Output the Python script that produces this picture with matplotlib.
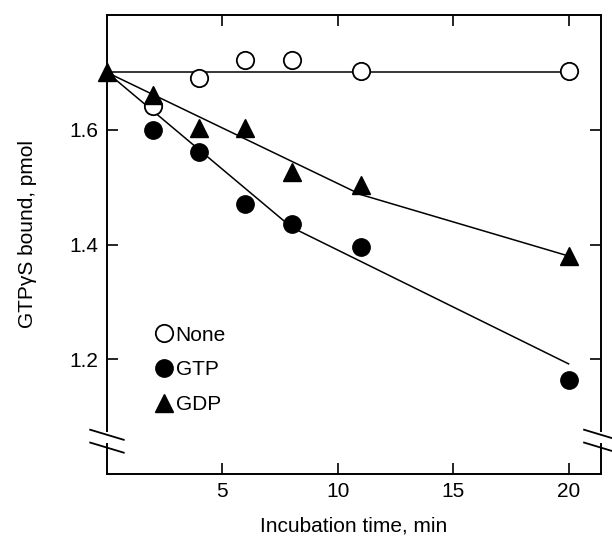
import numpy as np
import matplotlib
matplotlib.use("Agg")
import matplotlib.pyplot as plt
from matplotlib.lines import Line2D

plt.rcParams['font.family'] = ['Liberation Sans', 'DejaVu Sans']

# measured points
none_t = [2, 4, 6, 8, 11, 20]
none_y = [1.642, 1.691, 1.722, 1.722, 1.702, 1.702]
gtp_t = [2, 4, 6, 8, 11, 20]
gtp_y = [1.600, 1.562, 1.471, 1.436, 1.395, 1.163]
gdp_t = [0, 2, 4, 6, 8, 11, 20]
gdp_y = [1.700, 1.661, 1.603, 1.603, 1.527, 1.503, 1.380]

# drawn fit lines
none_fit_t = [0, 20]
none_fit_y = [1.700, 1.700]
gtp_fit_t = [0, 8, 20]
gtp_fit_y = [1.700, 1.430, 1.192]
gdp_fit_t = [0, 11, 20]
gdp_fit_y = [1.700, 1.487, 1.380]

xticks = [5, 10, 15, 20]
yticks = [1.2, 1.4, 1.6]

fs = 15
fig = plt.figure(figsize=(6.12, 5.37), dpi=100)
ax = fig.add_axes([0.1748, 0.1173, 0.807, 0.8547])

lw = 1.1
ax.plot(none_fit_t, none_fit_y, color='black', lw=lw, zorder=2)
ax.plot(gtp_fit_t, gtp_fit_y, color='black', lw=lw, zorder=2)
ax.plot(gdp_fit_t, gdp_fit_y, color='black', lw=lw, zorder=2)

ms = 12.5
ax.plot(none_t, none_y, 'o', ms=ms, mfc='white', mec='black', mew=1.3, zorder=3, clip_on=False)
ax.plot(gtp_t, gtp_y, 'o', ms=ms, mfc='black', mec='black', zorder=3, clip_on=False)
ax.plot(gdp_t, gdp_y, '^', ms=ms, mfc='black', mec='black', zorder=4, clip_on=False)

ax.set_xlim(0, 21.4)
ax.set_ylim(1.0, 1.8)
ax.set_xticks(xticks)
ax.set_yticks(yticks)
ax.set_yticklabels(['1.2', '1.4', '1.6'])
ax.tick_params(direction='in', length=8, width=1.2, labelsize=fs,
               top=True, right=True, labeltop=False, labelright=False)
ax.tick_params(axis='x', pad=6)
ax.tick_params(axis='y', pad=6)
for s in ax.spines.values():
    s.set_linewidth(1.4)

ax.set_xlabel('Incubation time, min', fontsize=fs, labelpad=11)
ax.set_ylabel('GTPγS bound, pmol', fontsize=fs)
ax.yaxis.set_label_coords(-0.142, 0.523)

# axis breaks on left and right spines
ax.spines['left'].set_visible(False)
ax.spines['right'].set_visible(False)
gap_lo, gap_hi = 0.066, 0.094
for xs in (0, 1):
    ax.plot([xs, xs], [0, gap_lo], transform=ax.transAxes, color='black', lw=1.4, clip_on=False)
    ax.plot([xs, xs], [gap_hi, 1], transform=ax.transAxes, color='black', lw=1.4, clip_on=False)
    for yc in (0.0575, 0.0855):
        ax.plot([xs - 0.034, xs + 0.034], [yc + 0.011, yc - 0.011], transform=ax.transAxes,
                color='black', lw=1.3, clip_on=False)

handles = [
    Line2D([], [], ls='none', marker='o', ms=ms, mfc='white', mec='black', mew=1.3),
    Line2D([], [], ls='none', marker='o', ms=ms, mfc='black', mec='black'),
    Line2D([], [], ls='none', marker='^', ms=ms, mfc='black', mec='black'),
]
ax.legend(handles, ['None', 'GTP', 'GDP'], loc='center left', bbox_to_anchor=(0.097, 0.227),
          frameon=False, fontsize=fs, handlelength=0.85, handletextpad=0.15,
          labelspacing=0.75, borderpad=0, borderaxespad=0)

fig.savefig('out.png', dpi=100)
